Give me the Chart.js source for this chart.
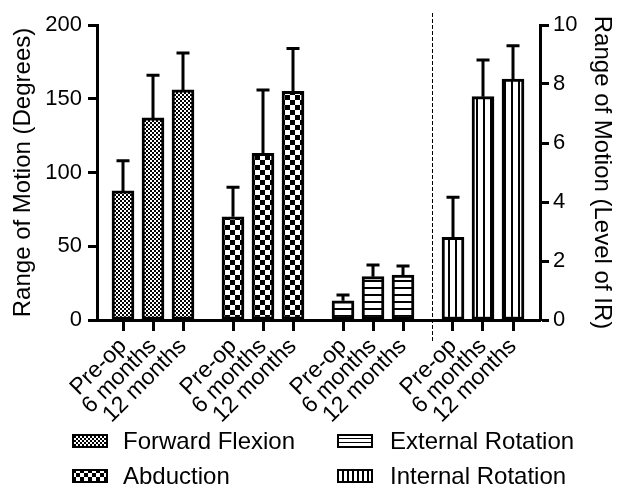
<!DOCTYPE html>
<html>
<head>
<meta charset="utf-8">
<script src="https://cdn.jsdelivr.net/npm/chart.js@4.4.1/dist/chart.umd.min.js"></script>
<style>
  html, body { margin: 0; padding: 0; background: #fff; }
  #wrap { position: relative; width: 618px; height: 490px; }
  #chart { position: absolute; left: 0; top: 0; }
  .leg-text { position: absolute; font-family: 'Liberation Sans', Arial, sans-serif; font-size: 24px; line-height: 28px; color: #000; white-space: nowrap; }
  .leg-box { position: absolute; }
</style>
</head>
<body>
<div id="wrap">
  <canvas id="chart" width="618" height="490"></canvas>
  <div id="legend"></div>
</div>
<script>
// timepoints (x tick labels) and measures (legend)
const timepoints = ['Pre-op', '6 months', '12 months'];
const measures = ['Forward Flexion', 'Abduction', 'External Rotation', 'Internal Rotation'];

// degrees, left axis
const forwardFlexion = [87.5, 137, 156];
const forwardFlexionSD = [20.5, 29, 25];
const abduction = [70, 113, 155];
const abductionSD = [20, 43, 29];
const externalRotation = [13, 29.4, 30.4];
const externalRotationSD = [4, 7.9, 6.2];

// level of IR, right axis
const internalRotation = [2.8, 7.57, 8.17];
const internalRotationSD = [1.36, 1.24, 1.13];

const degreeTicks = [0, 50, 100, 150, 200];
const irTicks = [0, 2, 4, 6, 8, 10];

// x layout (scale units): bars 3 apart, groups 11 apart
const barStep = 3;
const groupStep = 11;
const dividerAt = 30.85;

Chart.defaults.font.family = "'Liberation Sans', Arial, sans-serif";
Chart.defaults.color = '#000';

// small tiles for the hatch fills
var makeTile = function(kind, small) {
    const c = document.createElement('canvas');
    const g = c.getContext('2d');
    let n;
    if (kind === 'fine') {
        n = 4;
        c.width = c.height = n;
        g.fillStyle = '#fff'; g.fillRect(0, 0, n, n);
        g.fillStyle = '#000'; g.fillRect(0, 0, 2, 2); g.fillRect(2, 2, 2, 2);
    } else if (kind === 'coarse') {
        n = small ? 8 : 10;
        c.width = c.height = n;
        g.fillStyle = '#fff'; g.fillRect(0, 0, n, n);
        g.fillStyle = '#000'; g.fillRect(0, 0, n / 2, n / 2); g.fillRect(n / 2, n / 2, n / 2, n / 2);
    } else if (kind === 'hlines') {
        n = small ? 4 : 7;
        c.width = c.height = n;
        g.fillStyle = '#fff'; g.fillRect(0, 0, n, n);
        g.fillStyle = '#000'; g.fillRect(0, 0, n, small ? 1 : 2);
    } else {
        n = small ? 5 : 7;
        c.width = c.height = n;
        g.fillStyle = '#fff'; g.fillRect(0, 0, n, n);
        g.fillStyle = '#000'; g.fillRect(0, 0, 2, n);
    }
    return c;
};

const patternKinds = ['fine', 'coarse', 'hlines', 'vlines'];
const chartCtx = document.getElementById('chart').getContext('2d');
const patterns = patternKinds.map(k => chartCtx.createPattern(makeTile(k, false), 'repeat'));

// build bar points from the arrays
const degreeSeries = [forwardFlexion, abduction, externalRotation];
const degreeErrors = [forwardFlexionSD, abductionSD, externalRotationSD];
const degreePoints = [], degreeErr = [], degreeFill = [];
degreeSeries.forEach((vals, g) => {
    vals.forEach((v, i) => {
        degreePoints.push({ x: g * groupStep + i * barStep, y: v });
        degreeErr.push(degreeErrors[g][i]);
        degreeFill.push(patterns[g]);
    });
});
const irPoints = internalRotation.map((v, i) => ({ x: 3 * groupStep + i * barStep, y: v }));
const tickPositions = degreePoints.map(p => p.x).concat(irPoints.map(p => p.x));

// upward-only error bars
const errorBars = {
    id: 'errorBars',
    afterDatasetsDraw(chart) {
        const ctx = chart.ctx;
        chart.data.datasets.forEach((ds, di) => {
            const meta = chart.getDatasetMeta(di);
            const yScale = chart.scales[ds.yAxisID];
            meta.data.forEach((bar, i) => {
                const top = yScale.getPixelForValue(ds.data[i].y + ds.errors[i]);
                ctx.save();
                ctx.strokeStyle = '#000';
                ctx.lineWidth = 3;
                ctx.beginPath();
                ctx.moveTo(bar.x, bar.y);
                ctx.lineTo(bar.x, top);
                ctx.moveTo(bar.x - 6.5, top);
                ctx.lineTo(bar.x + 6.5, top);
                ctx.stroke();
                ctx.restore();
            });
        });
    }
};

// dashed separator before the IR group
const divider = {
    id: 'divider',
    afterDraw(chart) {
        const ctx = chart.ctx;
        const x = Math.round(chart.scales.x.getPixelForValue(dividerAt)) + 0.5;
        ctx.save();
        ctx.strokeStyle = '#000';
        ctx.lineWidth = 1;
        ctx.setLineDash([4, 2]);
        ctx.beginPath();
        ctx.moveTo(x, chart.chartArea.top - 12);
        ctx.lineTo(x, chart.chartArea.bottom + 22);
        ctx.stroke();
        ctx.restore();
    }
};

const axisGrid = { drawOnChartArea: false, drawTicks: true, offset: false, tickLength: 10, tickWidth: 3, tickColor: '#000' };
const axisBorder = { display: true, width: 3, color: '#000' };

new Chart(document.getElementById('chart'), {
    type: 'bar',
    data: {
        datasets: [{
            label: 'Degrees',
            data: degreePoints,
            errors: degreeErr,
            yAxisID: 'y',
            backgroundColor: degreeFill,
            borderColor: '#000',
            borderWidth: 3,
            borderSkipped: false,
            barThickness: 22,
            grouped: false
        }, {
            label: 'Level of IR',
            data: irPoints,
            errors: internalRotationSD,
            yAxisID: 'y1',
            backgroundColor: patterns[3],
            borderColor: '#000',
            borderWidth: 3,
            borderSkipped: false,
            barThickness: 22,
            grouped: false
        }]
    },
    options: {
        responsive: false,
        animation: false,
        layout: { padding: { top: 25, left: 0, right: 0, bottom: 0 } },
        plugins: { legend: { display: false }, tooltip: { enabled: false } },
        scales: {
            x: {
                type: 'linear',
                position: 'bottom',
                offset: false,
                min: -2.6,
                max: 41.7,
                grid: Object.assign({}, axisGrid, { tickLength: 11 }),
                border: axisBorder,
                afterBuildTicks: (scale) => { scale.ticks = tickPositions.map(v => ({ value: v })); },
                afterFit: (scale) => { scale.height = 170; },
                ticks: {
                    autoSkip: false,
                    minRotation: 45,
                    maxRotation: 45,
                    padding: 2,
                    font: { size: 23 },
                    callback: (v, i) => timepoints[i % 3]
                }
            },
            y: {
                position: 'left',
                min: 0,
                max: 200,
                grid: Object.assign({}, axisGrid, { tickLength: 9 }),
                border: axisBorder,
                afterBuildTicks: (scale) => { scale.ticks = degreeTicks.map(v => ({ value: v })); },
                afterFit: (scale) => { scale.width = 97; },
                ticks: { padding: 6, font: { size: 22 } },
                title: { display: true, text: 'Range of Motion (Degrees)', font: { size: 24 }, padding: { top: 8.6, bottom: 0 } }
            },
            y1: {
                position: 'right',
                min: 0,
                max: 10,
                grid: Object.assign({}, axisGrid, { tickLength: 9 }),
                border: axisBorder,
                afterBuildTicks: (scale) => { scale.ticks = irTicks.map(v => ({ value: v })); },
                afterFit: (scale) => { scale.width = 78; },
                ticks: { padding: 4, font: { size: 22 } },
                title: { display: true, text: 'Range of Motion (Level of IR)', font: { size: 24 }, padding: { top: 1.9, bottom: 0 } }
            }
        }
    },
    plugins: [errorBars, divider]
});

// legend in two columns, swatches use the same hatch tiles
const legendSpots = [
    { box: [72, 434], text: [123, 427] },
    { box: [72, 469], text: [123, 462] },
    { box: [337, 434], text: [390, 427] },
    { box: [337, 469], text: [390, 462] }
];
const legendEl = document.getElementById('legend');
measures.forEach((name, k) => {
    const spot = legendSpots[k];
    const box = document.createElement('canvas');
    box.width = 36; box.height = 14;
    box.className = 'leg-box';
    box.style.left = spot.box[0] + 'px';
    box.style.top = spot.box[1] + 'px';
    const bctx = box.getContext('2d');
    bctx.fillStyle = bctx.createPattern(makeTile(patternKinds[k], true), 'repeat');
    bctx.fillRect(0, 0, 36, 14);
    bctx.strokeStyle = '#000';
    bctx.lineWidth = 2;
    bctx.strokeRect(1, 1, 34, 12);
    legendEl.appendChild(box);

    const t = document.createElement('div');
    t.className = 'leg-text';
    t.style.left = spot.text[0] + 'px';
    t.style.top = spot.text[1] + 'px';
    t.textContent = name;
    legendEl.appendChild(t);
});
</script>
</body>
</html>
